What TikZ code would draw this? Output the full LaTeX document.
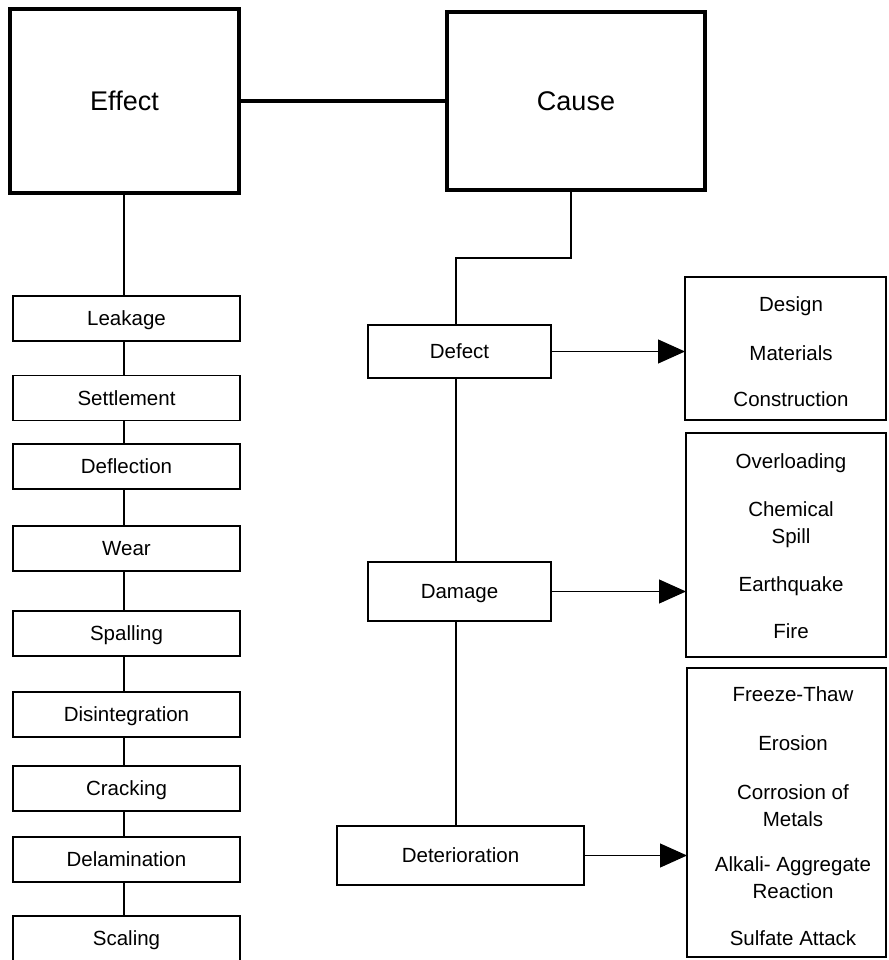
\documentclass[tikz,border=0pt]{standalone}
\usepackage{fontspec}
\setmainfont{Liberation Sans}
\usetikzlibrary{arrows.meta}
\begin{document}
\begin{tikzpicture}[x=1pt,y=-1pt,
  bigbox/.style={draw,line width=4pt,inner sep=0pt,outer sep=0pt,
    font=\fontsize{27}{32}\selectfont,text height=19.3pt,text depth=0pt},
  effbox/.style={draw,line width=1.4pt,minimum width=227pt,minimum height=45pt,
    inner sep=0pt,outer sep=0pt,font=\fontsize{20.5}{26}\selectfont,
    text height=14.7pt,text depth=0pt},
  kindbox/.style={draw,line width=2.2pt,inner sep=0pt,outer sep=0pt,
    font=\fontsize{20.5}{26}\selectfont,text height=14.7pt,text depth=0pt},
  listbox/.style={draw,line width=1.4pt,inner sep=0pt,outer sep=0pt},
  listtext/.style={anchor=base,inner sep=0pt,align=center,
    font=\fontsize{20.5}{27}\selectfont},
  thin/.style={line width=1.2pt},
  mid/.style={line width=2pt},
  heavy/.style={line width=4pt},
  arr/.style={line width=1.2pt,-{Triangle[length=27pt,width=24pt]}}
]
\useasboundingbox (0,0) rectangle (888,960);

% top boxes
\node[bigbox,minimum width=229pt,minimum height=184pt] (effect) at (124.5,101) {Effect};
\node[bigbox,minimum width=258pt,minimum height=178pt] (cause) at (576,101) {Cause};
\draw[heavy] (effect.east) -- (cause.west);

% effect column
\coordinate (lx) at (124,0);
\node[effbox] (leak) at (126.5,318.5) {Leakage};
\node[effbox] (sett) at (126.5,398) {Settlement};
\node[effbox] (defl) at (126.5,466.5) {Deflection};
\node[effbox] (wear) at (126.5,548.5) {Wear};
\node[effbox] (spal) at (126.5,633.5) {Spalling};
\node[effbox] (disi) at (126.5,714.5) {Disintegration};
\node[effbox] (crac) at (126.5,788.5) {Cracking};
\node[effbox] (dela) at (126.5,859.5) {Delamination};
\node[effbox] (scal) at (126.5,938.5) {Scaling};

\draw[thin] (effect.south -| lx) -- (leak.north -| lx);
\draw[thin] (leak.south -| lx) -- (sett.north -| lx);
\draw[thin] (sett.south -| lx) -- (defl.north -| lx);
\draw[thin] (defl.south -| lx) -- (wear.north -| lx);
\draw[thin] (wear.south -| lx) -- (spal.north -| lx);
\draw[thin] (spal.south -| lx) -- (disi.north -| lx);
\draw[thin] (disi.south -| lx) -- (crac.north -| lx);
\draw[thin] (crac.south -| lx) -- (dela.north -| lx);
\draw[thin] (dela.south -| lx) -- (scal.north -| lx);

% cause column
\node[kindbox,minimum width=183pt,minimum height=53pt] (defect) at (459.5,351.5) {Defect};
\node[kindbox,minimum width=183pt,minimum height=59pt] (damage) at (459.5,591.5) {Damage};
\node[kindbox,minimum width=247pt,minimum height=59pt] (deter) at (460.5,855.5) {Deterioration};

\coordinate (cx) at (571,258);
\coordinate (dx) at (456,258);
\draw[mid] (cause.south -| cx) -- (cx) -- (dx) -- (defect.north -| dx);
\draw[mid] (defect.south -| dx) -- (damage.north -| dx);
\draw[mid] (damage.south -| dx) -- (deter.north -| dx);

% list boxes
\node[listbox,minimum width=201pt,minimum height=143pt] (r1) at (785.5,348.5) {};
\node[listbox,minimum width=200pt,minimum height=224pt] (r2) at (786,545) {};
\node[listbox,minimum width=199pt,minimum height=289pt] (r3) at (786.5,812.5) {};

\draw[arr] (defect.east) -- (r1.west |- defect.east);
\draw[arr] (damage.east) -- (r2.west |- damage.east);
\draw[arr] (deter.east) -- (r3.west |- deter.east);

% list texts (base anchor = baseline of last line)
\node[listtext] (t1a) at (791,311) {Design};
\node[listtext] (t1b) at (791,360) {Materials};
\node[listtext] (t1c) at (791,406) {Construction};

\node[listtext] (t2a) at (791,468) {Overloading};
\node[listtext] (t2b) at (791,543) {Chemical\\Spill};
\node[listtext] (t2c) at (791,591) {Earthquake};
\node[listtext] (t2d) at (791,638) {Fire};

\node[listtext] (t3a) at (793,701) {Freeze-Thaw};
\node[listtext] (t3b) at (793,750) {Erosion};
\node[listtext] (t3c) at (793,826) {Corrosion of\\Metals};
\node[listtext] (t3d) at (793,898) {Alkali- Aggregate\\Reaction};
\node[listtext] (t3e) at (793,945) {Sulfate Attack};
\end{tikzpicture}
\end{document}
